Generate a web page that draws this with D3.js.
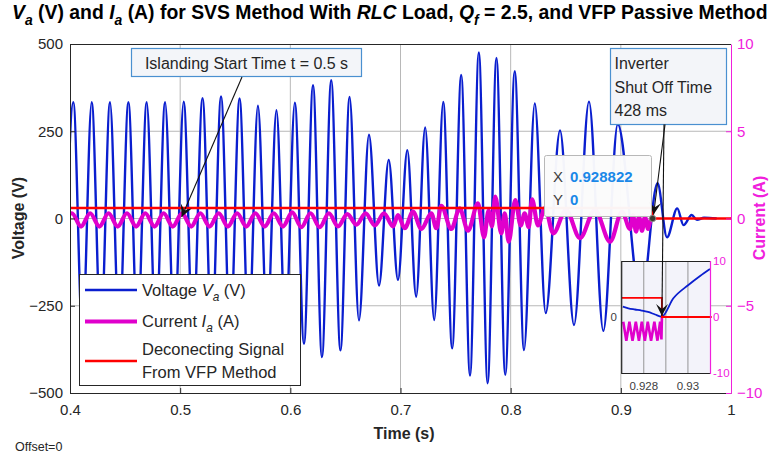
<!DOCTYPE html>
<html><head><meta charset="utf-8">
<script src="https://cdn.jsdelivr.net/npm/d3@7"></script>
<style>body{margin:0;background:#fff;} svg{display:block;font-family:"Liberation Sans",Arial,Helvetica,sans-serif;}</style>
</head><body><svg id="c" width="774" height="457"></svg>
<script>
// ---------------- DATA ----------------
const xTicks = [0.4, 0.5, 0.6, 0.7, 0.8, 0.9, 1.0];
const xTickLabels = ["0.4", "0.5", "0.6", "0.7", "0.8", "0.9", "1"];
const vTicks = [-500, -250, 0, 250, 500];
const iTicks = [-10, -5, 0, 5, 10];

// Voltage Va (V): successive peaks / troughs
const vTime = [0.3947, 0.4030, 0.4113, 0.4197, 0.4280, 0.4363, 0.4447, 0.4530, 0.4613, 0.4696, 0.4780,
  0.4863, 0.4947, 0.5032, 0.5116, 0.5203, 0.5287, 0.5371, 0.5454, 0.5539, 0.5622, 0.5706, 0.5790,
  0.5874, 0.5956, 0.6041, 0.6124, 0.6206, 0.6287, 0.6371, 0.6455, 0.6538, 0.6623, 0.6714, 0.6805,
  0.6893, 0.6977, 0.7062, 0.7142, 0.7224, 0.7306, 0.7388, 0.7469, 0.7551, 0.7631, 0.7711, 0.7791,
  0.7871, 0.7951, 0.8037, 0.8121, 0.8219, 0.8318, 0.8448, 0.8575, 0.8711, 0.8841, 0.8972, 0.9183,
  0.9333, 0.9419, 0.9512, 0.9569, 0.9643, 0.9691, 0.9755, 0.9870];
const vValue = [-333, 333, -333, 333, -333, 333, -333, 333, -333, 333, -333,
  333, -333, 335, -340, 345, -348, 350, -346, 344, -333, 323, -318,
  310, -322, 332, -359, 382, -397, 396, -378, 348, -292, 240, -192,
  168, -176, 196, -224, 261, -291, 334, -372, 411, -450, 476, -472,
  460, -448, 422, -377, 330, -271, 252, -305, 335, -322, 270, -240,
  101, -54, 29, -19, 10, -4, 2, 0];

// Current Ia (A): successive peaks / troughs
const iTime = [0.3933, 0.4017, 0.4100, 0.4183, 0.4267, 0.4350, 0.4433, 0.4517, 0.4600, 0.4683, 0.4767,
  0.4850, 0.4933, 0.5017, 0.5100, 0.5183, 0.5267, 0.5350, 0.5433, 0.5517, 0.5600, 0.5683, 0.5767,
  0.5850, 0.5933, 0.6017, 0.6100, 0.6183, 0.6267, 0.6350, 0.6433, 0.6517, 0.6600, 0.6683, 0.6767,
  0.6850, 0.6933, 0.6977, 0.7038, 0.7113, 0.7189, 0.7280, 0.7325, 0.7370, 0.7461, 0.7537, 0.7613,
  0.7703, 0.7758, 0.7800, 0.7830, 0.7860, 0.7915, 0.7946, 0.7982, 0.8042, 0.8091, 0.8127, 0.8164,
  0.8194, 0.8248, 0.8312, 0.8387, 0.8502, 0.8629, 0.8765, 0.8902, 0.9011, 0.9083, 0.9110, 0.9138,
  0.9165, 0.9192, 0.9219, 0.9247, 0.9274, 0.9288];
const iValue = [-0.46, 0.30, -0.46, 0.30, -0.46, 0.30, -0.46, 0.30, -0.46, 0.30, -0.46,
  0.30, -0.46, 0.30, -0.46, 0.30, -0.46, 0.30, -0.46, 0.30, -0.46, 0.30, -0.46,
  0.30, -0.46, 0.35, -0.50, 0.30, -0.50, 0.30, -0.45, 0.25, -0.35, 0.30, -0.40,
  0.30, -0.45, 0.20, -0.56, 0.39, -0.60, 0.30, -0.56, 0.72, -0.60, 0.58, -0.70,
  0.87, -1.08, 0.45, -0.45, 1.25, -0.85, 0.30, -1.33, 1.06, -0.40, 0.30, -0.50,
  1.10, -0.40, 0.60, -0.85, 0.50, -1.12, 0.50, -1.33, 0.40, -0.60, 0.20, -0.75,
  0.10, -0.70, 0.10, -0.60, 0.00, 0.00];

// Disconnecting signal from VFP method
const dTime = [0.4, 0.928822, 0.928822, 1.0];
const dValue = [0.6, 0.6, 0, 0];

// Inset (zoom around the shut-off instant)
const insetXTicks = [0.928, 0.929, 0.93];
const insetXTickLabels = ["0.928", "", "0.93"];
const insetYTicks = [-10, 0, 10];
const insetVTime = [0.92705, 0.92730, 0.92760, 0.92790, 0.92819, 0.92851, 0.92881, 0.92934, 0.93002, 0.93055, 0.93100];
const insetVValue = [1.84, 1.55, 1.34, 1.15, 0.90, 0.45, 0.05, 3.34, 5.71, 7.32, 8.57];
const insetITime = [0.92707, 0.92721, 0.92735, 0.92749, 0.92764, 0.92778, 0.92791, 0.92805, 0.92818, 0.92833, 0.92848, 0.92862, 0.92874, 0.92880, 0.928822];
const insetIValue = [-0.84, -4.23, -0.84, -4.23, -0.84, -4.23, -0.84, -4.23, -0.84, -4.23, -0.84, -4.23, -0.84, -4.0, 0];
const insetDTime = [0.927, 0.928822, 0.928822, 0.9311];
const insetDValue = [3.4, 3.4, 0, 0];

const shutOffTime = 0.928822;
const islandTime = 0.5;

// ---------------- STYLE ----------------
const BLUE = "#0a1ecf", MAG = "#e000cc", MAGAX = "#f020dc", RED = "#ff0000", TXT = "#262626";
const svg = d3.select("#c");

const x = d3.scaleLinear().domain([0.4, 1]).range([70, 731]);
const yV = d3.scaleLinear().domain([-500, 500]).range([393, 44]);
const yI = d3.scaleLinear().domain([-10, 10]).range([393, 44]);

function rich(sel, segs, size) {
  let shifted = false;
  segs.forEach(([txt, st]) => {
    const ts = sel.append("tspan").text(txt);
    if (st.includes("i")) ts.attr("font-style", "italic");
    if (st.includes("s")) {
      ts.attr("font-size", size * 0.72);
      if (!shifted) { ts.attr("dy", size * 0.32); shifted = true; }
    } else if (shifted) { ts.attr("dy", -size * 0.32); shifted = false; }
  });
}

function arrow(g, x1, y1, x2, y2) {
  g.append("line").attr("x1", x1).attr("y1", y1).attr("x2", x2).attr("y2", y2)
    .attr("stroke", "#111").attr("stroke-width", 1.1);
  const a = Math.atan2(y2 - y1, x2 - x1);
  const L = 12, W = 6, N = 7;
  const pt = (dx, dy) => [x2 + dx * Math.cos(a) - dy * Math.sin(a), y2 + dx * Math.sin(a) + dy * Math.cos(a)];
  const p = [pt(0, 0), pt(-L, -W), pt(-N, 0), pt(-L, W)];
  g.append("path").attr("d", "M" + p.map(q => q.join(",")).join("L") + "Z").attr("fill", "#111");
}

// grid
const grid = svg.append("g").attr("stroke", "#b8b8b8").attr("stroke-width", 1);
xTicks.slice(1, -1).forEach(t => grid.append("line").attr("x1", x(t)).attr("x2", x(t)).attr("y1", 44).attr("y2", 393));
vTicks.slice(1, -1).forEach(v => grid.append("line").attr("x1", 70).attr("x2", 731).attr("y1", yV(v)).attr("y2", yV(v)));

// clip
svg.append("clipPath").attr("id", "pc").append("rect").attr("x", 70).attr("y", 44).attr("width", 661).attr("height", 349);
const plot = svg.append("g").attr("clip-path", "url(#pc)");

const vData = vTime.map((t, i) => [t, vValue[i]]);
const iData = iTime.map((t, i) => [t, iValue[i]]);
const dData = dTime.map((t, i) => [t, dValue[i]]);

plot.append("path").datum(vData)
  .attr("d", d3.line().x(d => x(d[0])).y(d => yV(d[1])).curve(d3.curveMonotoneX))
  .attr("fill", "none").attr("stroke", BLUE).attr("stroke-width", 2.4);
plot.append("path").datum(iData)
  .attr("d", d3.line().x(d => x(d[0])).y(d => yI(d[1])).curve(d3.curveMonotoneX))
  .attr("fill", "none").attr("stroke", MAG).attr("stroke-width", 4.2).attr("stroke-linejoin", "round");
plot.append("path").datum(dData)
  .attr("d", d3.line().x(d => x(d[0])).y(d => yI(d[1])))
  .attr("fill", "none").attr("stroke", RED).attr("stroke-width", 2.5);

// axes
const fs = 15;
const axL = svg.append("g").attr("transform", "translate(70,0)")
  .call(d3.axisLeft(yV).tickValues(vTicks).tickSizeInner(-5).tickSizeOuter(0).tickPadding(7));
const axB = svg.append("g").attr("transform", "translate(0,393)")
  .call(d3.axisBottom(x).tickValues(xTicks).tickFormat((d, i) => xTickLabels[i]).tickSizeInner(-5).tickSizeOuter(0).tickPadding(11));
const axR = svg.append("g").attr("transform", "translate(731,0)")
  .call(d3.axisRight(yI).tickValues(iTicks).tickSizeInner(-5).tickSizeOuter(0).tickPadding(6));
[axL, axB].forEach(a => { a.selectAll("path,line").attr("stroke", TXT); a.selectAll("text").attr("fill", TXT).attr("font-size", fs).attr("font-family", null); });
axR.selectAll("path,line").attr("stroke", MAGAX);
axR.selectAll("text").attr("fill", MAGAX).attr("font-size", fs).attr("font-family", null);
svg.append("line").attr("x1", 70).attr("x2", 731).attr("y1", 44.5).attr("y2", 44.5).attr("stroke", TXT);

// axis titles
svg.append("text").attr("transform", "translate(24,218) rotate(-90)").attr("text-anchor", "middle")
  .attr("font-weight", "bold").attr("font-size", 16).attr("fill", TXT).text("Voltage (V)");
svg.append("text").attr("transform", "translate(765,218) rotate(-90)").attr("text-anchor", "middle")
  .attr("font-weight", "bold").attr("font-size", 16).attr("fill", MAGAX).text("Current (A)");
svg.append("text").attr("x", 404).attr("y", 439).attr("text-anchor", "middle")
  .attr("font-weight", "bold").attr("font-size", 16).attr("fill", TXT).text("Time (s)");
svg.append("text").attr("x", 15).attr("y", 451).attr("font-size", 12.5).attr("fill", TXT).text("Offset=0");

// title
const title = svg.append("text").attr("x", 12).attr("y", 19).attr("font-weight", "bold").attr("font-size", 17).attr("fill", "#000");
rich(title, [["V", "i"], ["a", "is"], [" (V) and ", ""], ["I", "i"], ["a", "is"], [" (A) for SVS Method With ", ""],
  ["RLC", "i"], [" Load, ", ""], ["Q", "i"], ["f", "is"], [" = 2.5, and VFP Passive Method", ""]], 17);
{
  const w = title.node().getComputedTextLength();
  const nf = 17 * 756 / w;
  title.attr("font-size", nf);
  title.selectAll("tspan").each(function () {
    const s = d3.select(this);
    if (s.attr("font-size")) s.attr("font-size", nf * 0.72);
    if (s.attr("dy")) s.attr("dy", (+s.attr("dy") > 0 ? 1 : -1) * nf * 0.32);
  });
}

// legend
const lg = svg.append("g");
lg.append("rect").attr("x", 79.5).attr("y", 274.5).attr("width", 221).attr("height", 111)
  .attr("fill", "#fff").attr("stroke", TXT).attr("stroke-width", 1);
const legItems = [
  { c: BLUE, w: 2.4, y: 290, lines: [[["Voltage ", ""], ["V", "i"], ["a", "is"], [" (V)", ""]]] },
  { c: MAG, w: 4.2, y: 321.5, lines: [[["Current ", ""], ["I", "i"], ["a", "is"], [" (A)", ""]]] },
  { c: RED, w: 2.5, y: 361, lines: [[["Deconecting Signal", ""]], [["From VFP Method", ""]]] }
];
legItems.forEach(it => {
  lg.append("line").attr("x1", 85).attr("x2", 137).attr("y1", it.y).attr("y2", it.y).attr("stroke", it.c).attr("stroke-width", it.w);
  it.lines.forEach((ln, k) => {
    const n = it.lines.length;
    const yy = it.y + 5.5 + (k - (n - 1) / 2) * 22.5;
    const t = lg.append("text").attr("x", 142).attr("y", yy).attr("font-size", 16.5).attr("fill", TXT);
    rich(t, ln, 16.5);
  });
});

// annotation: islanding
const ann = svg.append("g");
ann.append("rect").attr("x", 131.5).attr("y", 48.5).attr("width", 230).attr("height", 28)
  .attr("fill", "#f3f5f9").attr("stroke", "#4a90d0").attr("stroke-width", 1.2);
ann.append("text").attr("x", 246.5).attr("y", 68.5).attr("text-anchor", "middle").attr("font-size", 16).attr("fill", TXT)
  .text("Islanding Start Time t = 0.5 s");
arrow(ann, 242, 77, x(islandTime) + 1.5, yI(0) - 1.5);

// datatip
const dt = svg.append("g");
dt.append("rect").attr("x", 544.5).attr("y", 155.5).attr("width", 107).attr("height", 61).attr("rx", 2)
  .attr("fill", "#fbfbfb").attr("fill-opacity", 0.97).attr("stroke", "#b8b8b8");
dt.append("text").attr("x", 553).attr("y", 182).attr("font-size", 15).attr("fill", "#404040").text("X");
dt.append("text").attr("x", 570).attr("y", 182).attr("font-size", 15).attr("font-weight", "bold").attr("fill", "#1a88e8").text(String(shutOffTime));
dt.append("text").attr("x", 553).attr("y", 205).attr("font-size", 15).attr("fill", "#404040").text("Y");
dt.append("text").attr("x", 570).attr("y", 205).attr("font-size", 15).attr("font-weight", "bold").attr("fill", "#1a88e8").text("0");

// inverter annotation box
ann.append("rect").attr("x", 610.5).attr("y", 48.5).attr("width", 116).attr("height", 76)
  .attr("fill", "#f3f5f9").attr("stroke", "#4a90d0").attr("stroke-width", 1.2);
["Inverter", "Shut Off Time", "428 ms"].forEach((s, k) =>
  ann.append("text").attr("x", 614.5).attr("y", 69 + k * 23.7).attr("font-size", 16).attr("fill", TXT).text(s));

// inset
const ix = d3.scaleLinear().domain([0.927, 0.931]).range([621.7, 710]);
const iy = d3.scaleLinear().domain([-10, 10]).range([373, 261]);
const ins = svg.append("g");
ins.append("rect").attr("x", 621.7).attr("y", 261).attr("width", 88.3).attr("height", 112).attr("fill", "#f3f3fa");
insetXTicks.forEach(t => ins.append("line").attr("x1", ix(t)).attr("x2", ix(t)).attr("y1", 261).attr("y2", 373).attr("stroke", "#8a8a8a").attr("stroke-width", 0.9));
ins.append("clipPath").attr("id", "ic").append("rect").attr("x", 621.7).attr("y", 261).attr("width", 90).attr("height", 112);
const ip = ins.append("g").attr("clip-path", "url(#ic)");
ip.append("path").datum(insetITime.map((t, i) => [t, insetIValue[i]]))
  .attr("d", d3.line().x(d => ix(d[0])).y(d => iy(d[1])))
  .attr("fill", "none").attr("stroke", MAG).attr("stroke-width", 2.6);
ip.append("path").datum(insetVTime.map((t, i) => [t, insetVValue[i]]))
  .attr("d", d3.line().x(d => ix(d[0])).y(d => iy(d[1])).curve(d3.curveMonotoneX))
  .attr("fill", "none").attr("stroke", BLUE).attr("stroke-width", 1.8);
ip.append("path").datum(insetDTime.map((t, i) => [t, insetDValue[i]]))
  .attr("d", d3.line().x(d => ix(d[0])).y(d => iy(d[1])))
  .attr("fill", "none").attr("stroke", RED).attr("stroke-width", 1.8);
ins.append("path").attr("d", `M710,261.5H621.7V373.5H710`).attr("fill", "none").attr("stroke", "#222").attr("stroke-width", 1.2);
ins.append("line").attr("x1", 710.5).attr("x2", 710.5).attr("y1", 261).attr("y2", 374).attr("stroke", MAGAX).attr("stroke-width", 1.2);
insetYTicks.forEach(v => ins.append("text").attr("x", 713).attr("y", iy(v) + 4).attr("font-size", 11.5).attr("fill", MAGAX).text(v));
ins.append("text").attr("x", 617).attr("y", iy(0) + 4).attr("text-anchor", "end").attr("font-size", 11.5).attr("fill", "#404040").text("0");
insetXTicks.forEach((t, k) => ins.append("text").attr("x", ix(t)).attr("y", 390).attr("text-anchor", "middle").attr("font-size", 11.5).attr("fill", "#404040").text(insetXTickLabels[k]));

// inverter arrows
arrow(ann, 665, 124.5, x(shutOffTime) + 1, yI(0) - 4);
arrow(svg, 664, 124.5, ix(shutOffTime), iy(0) - 1);

// datatip marker
svg.append("circle").attr("cx", x(shutOffTime)).attr("cy", yI(0)).attr("r", 3.2).attr("fill", "#3a3a30").attr("stroke", "#999").attr("stroke-width", 0.8);
</script></body></html>
